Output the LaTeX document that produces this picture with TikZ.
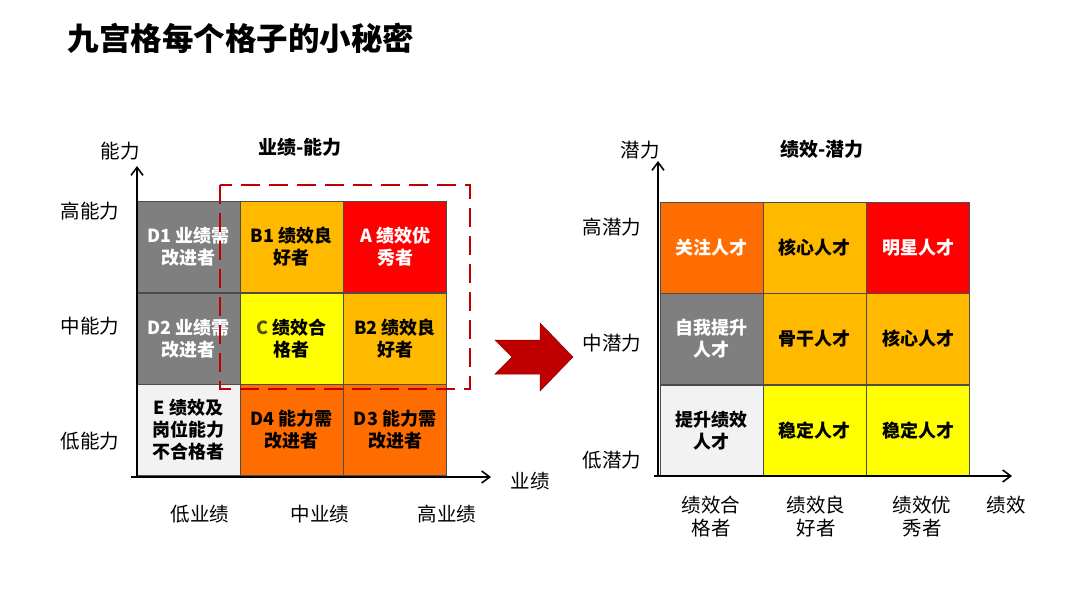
\documentclass[tikz,border=0pt]{standalone}
\usepackage{fontspec}
\setmainfont{Noto Sans CJK SC}
\usetikzlibrary{arrows.meta,positioning}
\definecolor{cellgray}{RGB}{127,127,127}
\definecolor{cellamber}{RGB}{255,186,0}
\definecolor{cellred}{RGB}{255,0,0}
\definecolor{cellyellow}{RGB}{255,255,0}
\definecolor{celllight}{RGB}{242,242,242}
\definecolor{cellorange}{RGB}{255,108,0}
\definecolor{markred}{RGB}{192,0,0}
\definecolor{olivec}{RGB}{80,80,0}

\begin{document}
\begin{tikzpicture}[x=1pt,y=-1pt,cell/.style={draw=black!70,line width=0.6pt,minimum width=103pt,minimum height=91pt,inner sep=0pt,align=center,font=\fontsize{18}{22}\selectfont\bfseries},axis/.style={line width=1.8pt,-{Straight Barb[length=8pt,width=12pt,line width=1.6pt]}},axlab/.style={font=\fontsize{19.5}{23}\selectfont,align=center},head/.style={font=\fontsize{19}{22}\selectfont\bfseries}]
\useasboundingbox (0,0) rectangle (1080,608);
\node[font=\fontsize{31.5}{36}\selectfont\bfseries,anchor=west](title) at (64,38){九宫格每个格子的小秘密};
% left grid: performance - ability
\node[cell,fill=cellgray,text=white](d1) at (188.5,247){D1 业绩需\\改进者};
\node[cell,fill=cellamber](b1) at (291.5,247){B1 绩效良\\好者};
\node[cell,fill=cellred,text=white](a) at (395,247){A 绩效优\\秀者};
\node[cell,fill=cellgray,text=white](d2) at (188.5,338.5){D2 业绩需\\改进者};
\node[cell,fill=cellyellow](c) at (291.5,338.5){\textcolor{olivec}{C} 绩效合\\格者};
\node[cell,fill=cellamber](b2) at (395,338.5){B2 绩效良\\好者};
\node[cell,fill=celllight](e) at (188.5,430){E 绩效及\\岗位能力\\不合格者};
\node[cell,fill=cellorange](d4) at (291.5,430){D4 能力需\\改进者};
\node[cell,fill=cellorange](d3) at (395,430){D3 能力需\\改进者};
\draw[markred,line width=2.6pt,dash pattern=on 19pt off 9pt](220,185) rectangle (470,389);
\coordinate(lo) at (137,477);
\coordinate(ly) at (137,166);
\coordinate(lx0) at (131,477);
\coordinate(lx) at (491,477);
\draw[axis](lo)--(ly);
\draw[axis](lx0)--(lx);
\node[axlab](lyname) at (120,151){能力};
\node[head](lhead) at (300,147){业绩-能力};
\node[axlab](lhi) at (90,211){高能力};
\node[axlab](lmid) at (90,326){中能力};
\node[axlab](llow) at (90,441){低能力};
\node[axlab](lxname) at (530,481){业绩};
\node[axlab](lc1) at (200,514){低业绩};
\node[axlab](lc2) at (320,514){中业绩};
\node[axlab](lc3) at (447,514){高业绩};
% big arrow
\fill[markred,draw=markred!70!black,line width=0.5pt](495,340)--(540,340)--(540,323)--(573,357)--(540,391)--(540,374)--(495,374)--(512,357)--cycle;
% right grid: performance - potential
\node[cell,fill=cellorange,text=white](focus) at (711.5,248){关注人才};
\node[cell,fill=cellamber](core1) at (814.5,248){核心人才};
\node[cell,fill=cellred,text=white](star) at (918,248){明星人才};
\node[cell,fill=cellgray,text=white](self) at (711.5,339){自我提升\\人才};
\node[cell,fill=cellamber](backbone) at (814.5,339){骨干人才};
\node[cell,fill=cellamber](core2) at (918,339){核心人才};
\node[cell,fill=celllight](raise) at (711.5,430.5){提升绩效\\人才};
\node[cell,fill=cellyellow](stable1) at (814.5,430.5){稳定人才};
\node[cell,fill=cellyellow](stable2) at (918,430.5){稳定人才};
\coordinate(ro) at (658,476);
\coordinate(ry) at (658,161);
\coordinate(rx0) at (654,476);
\coordinate(rx) at (1012,476);
\draw[axis](ro)--(ry);
\draw[axis](rx0)--(rx);
\node[axlab](ryname) at (640,150){潜力};
\node[head](rhead) at (822,149){绩效-潜力};
\node[axlab](rhi) at (612,227){高潜力};
\node[axlab](rmid) at (612,343){中潜力};
\node[axlab](rlow) at (612,460){低潜力};
\node[axlab](rxname) at (1006,505){绩效};
\node[axlab](rc1) at (711,517){绩效合\\格者};
\node[axlab](rc2) at (816,517){绩效良\\好者};
\node[axlab](rc3) at (922,517){绩效优\\秀者};
\end{tikzpicture}
\end{document}
